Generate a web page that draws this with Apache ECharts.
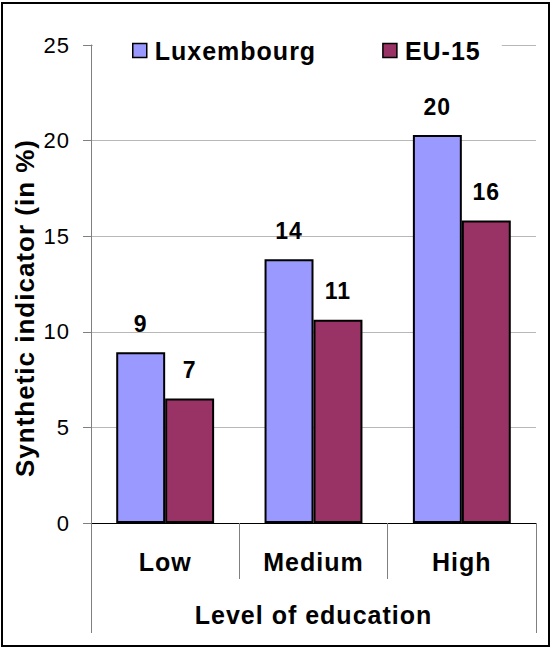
<!DOCTYPE html>
<html>
<head>
<meta charset="utf-8">
<script src="https://cdn.jsdelivr.net/npm/echarts@6/dist/echarts.min.js"></script>
<style>
  html, body { margin: 0; padding: 0; background: #fff; }
  #wrap { position: relative; width: 552px; height: 648px; overflow: hidden; }
  #chart { position: absolute; left: 0; top: 0; width: 552px; height: 648px; letter-spacing: 1px; }
  #frame { position: absolute; left: 1px; top: 2px; width: 549px; height: 645px;
           border: 2px solid #000; box-sizing: border-box; pointer-events: none; }
</style>
</head>
<body>
<div id="wrap">
  <div id="chart"></div>
  <div id="frame"></div>
</div>
<script>
// Synthetic indicator by level of education
const categories = ['Low', 'Medium', 'High'];
const luxembourg = [8.93, 13.79, 20.29];
const eu15 = [6.51, 10.63, 15.82];
const seriesNames = ['Luxembourg', 'EU-15'];
const yMin = 0, yMax = 25, yStep = 5;
const yTitle = 'Synthetic indicator (in %)';
const xTitle = 'Level of education';

const FONT = "'Liberation Sans', Arial, sans-serif";

const chart = echarts.init(document.getElementById('chart'), null, { renderer: 'svg' });

const valueLabel = {
  show: true,
  position: 'top',
  distance: 17,
  fontFamily: FONT,
  fontWeight: 'bold',
  fontSize: 23,
  color: '#000',
  formatter: p => String(Math.round(p.value))
};

chart.setOption({
  animation: false,
  backgroundColor: '#fff',
  textStyle: { fontFamily: FONT },
  grid: { left: 91, right: 16, top: 45, bottom: 125, containLabel: false },
  legend: {
    data: seriesNames,
    left: 93,
    top: 30,
    padding: [8, 26, 8, 39],
    backgroundColor: '#fff',
    itemGap: 76,
    itemWidth: 14,
    itemHeight: 14,
    icon: 'rect',
    itemStyle: { borderColor: '#000', borderWidth: 1.5 },
    textStyle: { fontFamily: FONT, fontWeight: 'bold', fontSize: 25, color: '#000', padding: [0, 0, 0, 3] }
  },
  xAxis: [
    {
      type: 'category',
      data: categories,
      position: 'bottom',
      axisLine: { show: true, lineStyle: { color: '#000', width: 1 } },
      axisTick: { show: true, interval: 0, length: 56, lineStyle: { color: '#808080' } },
      axisLabel: { interval: 0, margin: 26, fontFamily: FONT, fontWeight: 'bold', fontSize: 25, color: '#000' },
      splitLine: { show: false }
    },
    {
      type: 'category',
      data: [xTitle],
      position: 'bottom',
      offset: 56,
      axisLine: { show: false },
      axisTick: { show: true, interval: 0, length: 54, lineStyle: { color: '#808080' } },
      axisLabel: { interval: 0, margin: 23, fontFamily: FONT, fontWeight: 'bold', fontSize: 25, color: '#000' },
      splitLine: { show: false }
    }
  ],
  yAxis: {
    type: 'value',
    min: yMin,
    max: yMax,
    interval: yStep,
    axisLine: { show: true, lineStyle: { color: '#808080', width: 1 } },
    axisTick: { show: true, inside: false, length: 8, lineStyle: { color: '#808080' } },
    axisLabel: { margin: 21, fontFamily: FONT, fontSize: 22, color: '#000' },
    splitLine: { show: true, lineStyle: { color: '#b8b8b8', width: 1 } }
  },
  graphic: [
    {
      type: 'text',
      x: 25,
      y: 308,
      rotation: Math.PI / 2,
      style: {
        text: yTitle,
        fontFamily: FONT,
        fontWeight: 'bold',
        fontSize: 26,
        fill: '#000',
        align: 'center',
        verticalAlign: 'middle'
      }
    }
  ],
  series: [
    {
      name: seriesNames[0],
      type: 'bar',
      xAxisIndex: 0,
      data: luxembourg,
      barGap: '0%',
      barCategoryGap: '34%',
      itemStyle: { color: '#9999FF', borderColor: '#000', borderWidth: 2 },
      label: valueLabel
    },
    {
      name: seriesNames[1],
      type: 'bar',
      xAxisIndex: 0,
      data: eu15,
      barGap: '0%',
      barCategoryGap: '34%',
      itemStyle: { color: '#993366', borderColor: '#000', borderWidth: 2 },
      label: valueLabel
    }
  ]
});
</script>
</body>
</html>
